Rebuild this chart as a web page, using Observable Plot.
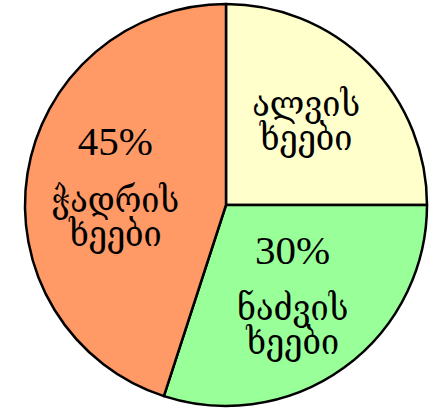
<!DOCTYPE html>
<html><head><meta charset="utf-8">
<script src="https://cdn.jsdelivr.net/npm/d3@7"></script>
<script src="https://cdn.jsdelivr.net/npm/@observablehq/plot@0.6"></script>
<style>html,body{margin:0;padding:0;background:#fff}</style>
</head><body><div id="chart"></div>
<script>
// Data
const names = ["ალვის\nხეები", "ნაძვის\nხეები", "ჭადრის\nხეები"];
const values = [25, 30, 45];
const showPercent = [false, true, true];
const colors = ["#ffffcc", "#99ff99", "#ff9966"];

const data = names.map((name, i) => ({name, value: values[i], showPercent: showPercent[i]}));
const total = d3.sum(values);
const arcs = d3.pie().sort(null).value(d => d.value)(data);
const k = 0.56;
const labels = arcs.map(a => {
  const mid = (a.startAngle + a.endAngle) / 2;
  return {
    ...a.data,
    pct: Math.round(a.data.value / total * 100) + "%",
    lx: k * Math.sin(mid),
    ly: k * Math.cos(mid)
  };
});
const color = d3.scaleOrdinal(names, colors);

function pieMark(index, scales) {
  const cx = scales.x(0), cy = scales.y(0), r = scales.x(1) - cx;
  const arc = d3.arc().innerRadius(0).outerRadius(r);
  const g = d3.create("svg:g").attr("transform", `translate(${cx},${cy})`);
  g.selectAll("path").data(arcs).join("path")
    .attr("d", arc)
    .attr("fill", d => color(d.data.name))
    .attr("stroke", "black")
    .attr("stroke-width", 2.5)
    .attr("stroke-linejoin", "round");
  return g.node();
}

const font = "'Liberation Serif', 'DejaVu Serif Condensed', 'DejaVu Serif', serif";
const nameStyle = {x: "lx", y: "ly", text: "name", fontSize: 36, lineHeight: 0.94, fontFamily: font, fill: "black"};
const chart = Plot.plot({
  width: 433,
  height: 409,
  margin: 0,
  x: {domain: [-1, 1], range: [25, 427], axis: null},
  y: {domain: [-1, 1], range: [406, 4], axis: null},
  style: {background: "white"},
  marks: [
    pieMark,
    Plot.text(labels, {filter: d => d.showPercent, x: "lx", y: "ly", text: "pct", dy: -46, fontSize: 41, fontFamily: font, fill: "black"}),
    Plot.text(labels, {...nameStyle, filter: d => d.showPercent, dy: 30}),
    Plot.text(labels, {...nameStyle, filter: d => !d.showPercent, dy: -4})
  ]
});
document.getElementById("chart").append(chart);
</script>
</body></html>
